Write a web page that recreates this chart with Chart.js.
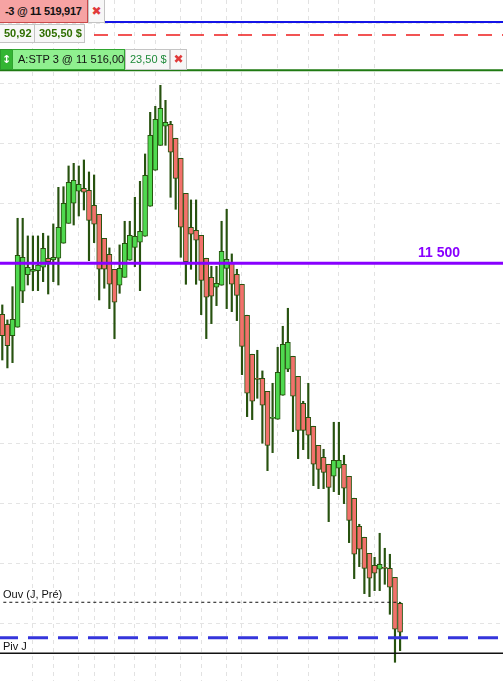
<!DOCTYPE html>
<html>
<head>
<meta charset="utf-8">
<title>Chart</title>
<script src="https://cdn.jsdelivr.net/npm/chart.js@4.4.0/dist/chart.umd.min.js"></script>
<style>
    html, body { margin: 0; padding: 0; background: #fff; }
    #wrap { position: relative; width: 503px; height: 681px; overflow: hidden;
            font-family: "Liberation Sans", Arial, sans-serif; }
    #wrap canvas { position: absolute; left: 0; top: 0; }
    .box { position: absolute; box-sizing: border-box; white-space: pre; font-size: 11px;
           border: 1px solid #c4c4c4; background: #f7f7f7; overflow: hidden; }
    .x { color: #e03a3a; text-align: center; font-size: 12px; font-family: "DejaVu Sans", sans-serif; }
</style>
</head>
<body>
<div id="wrap">
    <canvas id="chart" width="503" height="681"></canvas>

    <div class="box" style="left:-1px;top:-1px;width:89px;height:24px;line-height:22px;padding-left:5px;background:#f6a3a3;border-color:#c94a4a;font-weight:bold;letter-spacing:-0.3px;color:#111;">-3 @ 11 519,917</div>
    <div class="box x" style="left:88px;top:-1px;width:17px;height:24px;line-height:22px;">&#10006;</div>

    <div class="box" style="left:-1px;top:24px;width:36px;height:19px;line-height:17px;padding-left:4px;color:#2f6e00;font-weight:bold;">50,92</div>
    <div class="box" style="left:34px;top:24px;width:51px;height:19px;line-height:17px;padding-left:4px;color:#2f6e00;font-weight:bold;">305,50 $</div>

    <div class="box" style="left:0px;top:49px;width:13px;height:21px;line-height:19px;background:#33b533;border-color:#2a9a2a;color:#fff;text-align:center;font-family:'DejaVu Sans',sans-serif;font-weight:bold;">&#8597;</div>
    <div class="box" style="left:12px;top:49px;width:113px;height:21px;line-height:19px;padding-left:5px;background:#8ff08f;border-color:#2fa52f;color:#111;">A:STP 3 @ 11 516,00</div>
    <div class="box" style="left:125px;top:49px;width:45px;height:21px;line-height:19px;padding-left:4px;color:#1f8a3a;">23,50 $</div>
    <div class="box x" style="left:170px;top:49px;width:17px;height:21px;line-height:19px;">&#10006;</div>
</div>

<script>
    "use strict";

    // bougies (prix)
    var opens = [
        11495.75, 11494.92, 11493.97, 11494.67, 11497.67, 11499.05, 11499.33, 11499.38, 11499.67, 11500.42,
        11500.28, 11500.42, 11501.67, 11503.33, 11505.00, 11506.00, 11506.25, 11506.08, 11504.83, 11504.08,
        11502.08, 11500.75, 11499.50, 11498.17, 11498.83, 11500.25, 11501.33, 11501.75, 11502.25, 11504.75,
        11507.75, 11509.83, 11511.42, 11511.58, 11510.42, 11508.75, 11505.83, 11503.00, 11502.75, 11502.33,
        11500.42, 11498.83, 11498.00, 11498.17, 11499.58, 11500.08, 11499.08, 11498.25, 11495.67, 11492.42,
        11490.42, 11490.42, 11489.33, 11487.08, 11487.00, 11489.00, 11491.17, 11492.25, 11490.58, 11488.33,
        11487.17, 11486.42, 11484.83, 11483.83, 11483.25, 11482.25, 11482.92, 11483.25, 11482.25, 11480.42,
        11478.08, 11477.17, 11475.83, 11474.83, 11474.50, 11474.67, 11474.58, 11473.83, 11471.67
    ];
    var closes = [
        11493.97, 11493.13, 11495.33, 11500.67, 11500.50, 11499.67, 11499.50, 11499.86, 11501.25, 11500.13,
        11500.50, 11503.00, 11505.00, 11506.75, 11506.92, 11506.58, 11505.92, 11503.58, 11503.25, 11499.50,
        11499.50, 11498.25, 11496.75, 11499.58, 11501.67, 11502.33, 11502.25, 11502.67, 11507.33, 11510.67,
        11512.00, 11512.92, 11511.75, 11509.25, 11507.08, 11503.00, 11500.13, 11502.42, 11501.92, 11498.58,
        11497.17, 11497.25, 11498.33, 11501.00, 11500.33, 11498.25, 11497.33, 11493.08, 11489.17, 11488.50,
        11490.33, 11488.17, 11484.83, 11487.17, 11490.92, 11493.25, 11493.42, 11488.92, 11486.08, 11486.08,
        11485.67, 11483.25, 11482.83, 11482.58, 11481.33, 11483.58, 11483.58, 11481.25, 11478.58, 11475.75,
        11476.17, 11474.58, 11473.75, 11474.17, 11474.92, 11474.58, 11473.00, 11469.50, 11469.25
    ];
    var highs = [
        11496.53, 11495.28, 11498.05, 11503.75, 11503.75, 11502.28, 11502.28, 11502.28, 11502.50, 11502.28,
        11503.28, 11506.33, 11506.38, 11508.11, 11508.33, 11508.11, 11508.61, 11507.61, 11507.36, 11504.08,
        11502.08, 11501.28, 11499.50, 11501.53, 11503.50, 11503.50, 11505.50, 11506.83, 11509.11, 11512.58,
        11513.08, 11514.83, 11513.58, 11511.83, 11510.42, 11508.75, 11505.83, 11505.28, 11505.28, 11502.33,
        11500.42, 11499.75, 11499.75, 11503.50, 11504.50, 11500.78, 11499.50, 11498.25, 11495.67, 11492.42,
        11492.75, 11491.03, 11489.33, 11490.00, 11493.00, 11494.75, 11496.25, 11492.25, 11490.58, 11488.50,
        11490.00, 11486.42, 11484.83, 11484.50, 11483.25, 11486.75, 11486.75, 11484.00, 11482.25, 11480.42,
        11478.25, 11477.17, 11475.83, 11475.50, 11477.50, 11476.25, 11475.75, 11473.83, 11471.75
    ];
    var lows = [
        11491.94, 11491.28, 11491.72, 11494.67, 11496.72, 11498.19, 11497.72, 11497.72, 11498.47, 11497.44,
        11498.47, 11498.19, 11501.67, 11503.33, 11503.19, 11503.94, 11504.44, 11500.22, 11501.72, 11496.94,
        11497.92, 11496.22, 11493.72, 11497.50, 11498.83, 11500.25, 11499.72, 11497.72, 11502.25, 11504.75,
        11507.75, 11509.83, 11509.83, 11505.50, 11504.50, 11500.50, 11498.25, 11499.50, 11498.25, 11495.72,
        11493.72, 11494.97, 11496.47, 11498.17, 11496.22, 11495.97, 11495.22, 11490.72, 11487.22, 11486.97,
        11488.75, 11485.00, 11482.72, 11484.22, 11487.00, 11489.00, 11490.97, 11485.97, 11483.72, 11484.47,
        11483.72, 11481.47, 11481.22, 11481.22, 11478.47, 11480.97, 11480.72, 11479.97, 11476.72, 11473.72,
        11474.72, 11472.47, 11472.22, 11472.72, 11472.72, 11473.25, 11470.75, 11466.75, 11467.72
    ];

    // grille : bougies marquées (séparations horaires) et niveaux de prix
    var gridCandles = [6, 10, 15, 18, 22, 26, 30, 35, 39, 44, 47, 54, 60, 66, 73];
    var priceGrid = [11470, 11475, 11480, 11485, 11490, 11495, 11500, 11505, 11510, 11515, 11520];

    // niveaux horizontaux
    var levelPosition = 11520.1;   // position -3
    var levelTarget = 11519.03;    // objectif (rouge)
    var levelStop = 11516.08;      // STP
    var levelRound = 11500;        // 11 500
    var levelOpen = 11471.75;      // Ouv (J, Pré)
    var levelBand = 11468.8;       // bleu pointillé
    var levelPivot = 11467.5;      // Piv J

    var xMin = -0.45, xMax = 98.18;
    var yMin = 11465.19, yMax = 11521.94;

    var lastIdx = opens.length - 1;

    function hLine(value, color, width, dash, offset, from, to) {
        return {
            type: 'line',
            data: [{ x: from, y: value }, { x: to, y: value }],
            borderColor: color,
            borderWidth: width,
            borderDash: dash || [],
            borderDashOffset: offset || 0,
            pointRadius: 0,
            fill: false,
            order: 0
        };
    }

    var levelText = {
        id: 'levelText',
        afterDatasetsDraw: function (chart) {
            var ctx = chart.ctx;
            var y = chart.scales.y;
            ctx.save();
            ctx.font = 'bold 14px "Liberation Sans", Arial, sans-serif';
            ctx.fillStyle = '#8800ff';
            ctx.textAlign = 'right';
            ctx.fillText('11 500', 460, y.getPixelForValue(levelRound) - 6);
            ctx.font = '11px "Liberation Sans", Arial, sans-serif';
            ctx.fillStyle = '#111';
            ctx.textAlign = 'left';
            ctx.fillText('Ouv (J, Pré)', 3, y.getPixelForValue(levelOpen) - 4);
            ctx.fillText('Piv J', 3, y.getPixelForValue(levelPivot) - 3);
            ctx.restore();
        }
    };

    var wickData = highs.map(function (h, i) { return { x: i, y: [lows[i], h] }; });
    var bodyData = opens.map(function (o, i) { return { x: i, y: [o, closes[i]] }; });
    var bodyColors = opens.map(function (o, i) { return closes[i] >= o ? '#4fd94f' : '#f2716b'; });

    new Chart(document.getElementById('chart').getContext('2d'), {
        type: 'bar',
        data: {
            datasets: [
                hLine(levelRound, '#8800ff', 3, null, 0, xMin, xMax),
                hLine(levelPosition, '#1414e6', 2, null, 0, xMin, xMax),
                hLine(levelTarget, '#ee1c1c', 1.5, [14, 10], 2, xMin, xMax),
                hLine(levelStop, '#1f7a12', 2, null, 0, xMin, xMax),
                hLine(levelOpen, '#111', 1, [3, 3], 0, 0.2, lastIdx),
                hLine(levelBand, '#3535dc', 3, [20, 10], 2, xMin, xMax),
                hLine(levelPivot, '#111', 1.5, null, 0, xMin, xMax),
                {
                    type: 'bar',
                    data: bodyData,
                    backgroundColor: bodyColors,
                    borderColor: '#27520f',
                    borderWidth: 1,
                    borderSkipped: false,
                    barThickness: 5,
                    grouped: false,
                    order: 1
                },
                {
                    type: 'bar',
                    data: wickData,
                    backgroundColor: '#27520f',
                    borderWidth: 0,
                    barThickness: 1.5,
                    grouped: false,
                    order: 2
                }
            ]
        },
        options: {
            responsive: false,
            animation: false,
            events: [],
            layout: { padding: 0 },
            plugins: { legend: { display: false }, tooltip: { enabled: false } },
            scales: {
                x: {
                    type: 'linear',
                    min: xMin,
                    max: xMax,
                    offset: false,
                    ticks: { display: false },
                    grid: { color: '#e2e2e2', lineWidth: 1, drawTicks: false, offset: false },
                    border: { display: false, dash: [4, 4] },
                    afterBuildTicks: function (axis) {
                        axis.ticks = gridCandles.map(function (v) { return { value: v }; });
                    }
                },
                y: {
                    type: 'linear',
                    min: yMin,
                    max: yMax,
                    ticks: { display: false },
                    grid: { color: '#e4e4e4', lineWidth: 1, drawTicks: false },
                    border: { display: false, dash: [4, 4] },
                    afterBuildTicks: function (axis) {
                        axis.ticks = priceGrid.map(function (v) { return { value: v }; });
                    }
                }
            }
        },
        plugins: [levelText]
    });

    console.log("bougies dessinées:", opens.length);
</script>
</body>
</html>
